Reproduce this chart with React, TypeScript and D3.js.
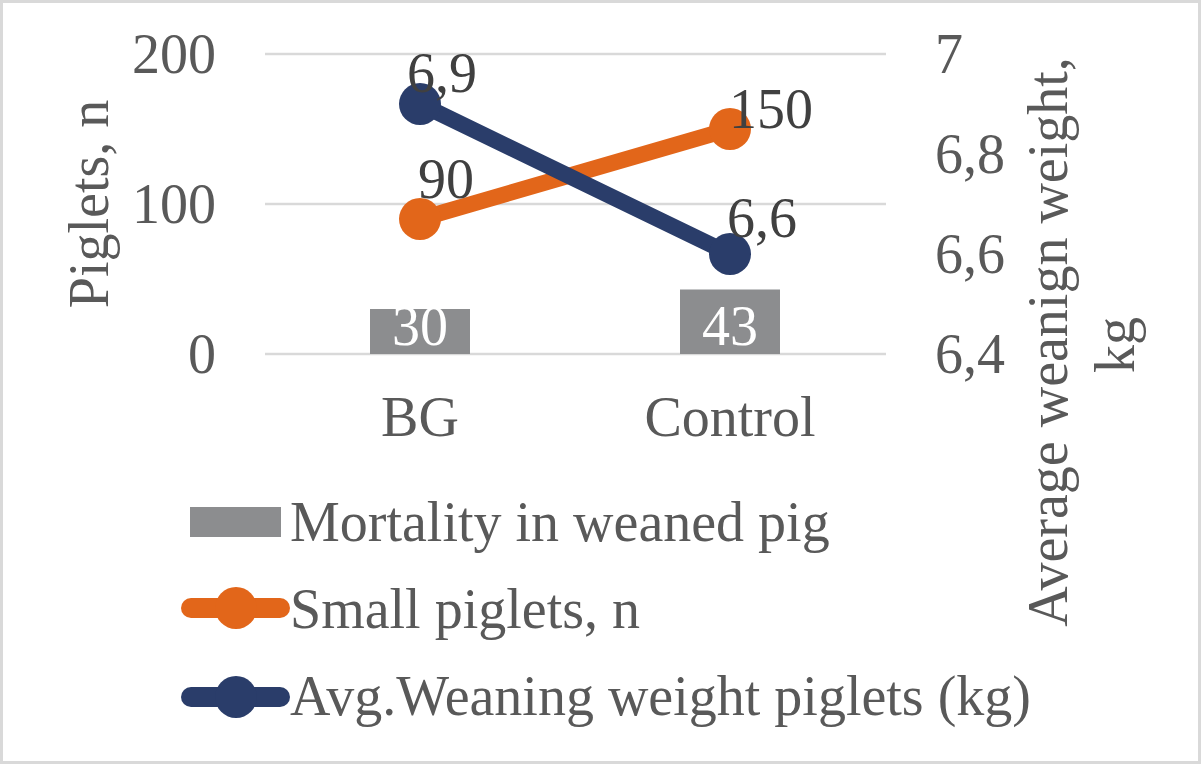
import React from "react";
import * as d3 from "d3";

const categories = ["BG", "Control"];
const mortality = [30, 43];
const smallPiglets = [90, 150];
const avgWeight = [6.9, 6.6];
const leftTicks = [0, 100, 200];
const rightTicks = [6.4, 6.6, 6.8, 7.0];
const legendLabels = ["Mortality in weaned pig", "Small piglets, n", "Avg.Weaning weight piglets (kg)"];

const W = 1201;
const H = 764;
const plot = { left: 265, right: 886, top: 54, bottom: 354 };
const FONT = "'Liberation Serif', 'Times New Roman', serif";
const FS = 56;
const AXIS_COLOR = "#595959";
const LABEL_COLOR = "#404040";
const ORANGE = "#E2661A";
const BLUE = "#2A3D6A";
const GRAY = "#8C8D8F";
const GRID = "#D9D9D9";

// label placement offsets (layout, not data)
const smallLabelOffset = [[-2, -21], [-1, -1]];
const avgLabelOffset = [[-13, -12], [-3, -17]];

const commaLocale = d3.formatLocale({ decimal: ",", thousands: " ", grouping: [3], currency: ["", ""] });
const fmt1 = commaLocale.format(".1~f");

export default function App() {
  const x = d3.scaleBand<string>().domain(categories).range([plot.left, plot.right - 1]).paddingInner(0).paddingOuter(0);
  const yL = d3.scaleLinear().domain([0, 200]).range([plot.bottom, plot.top]);
  const yR = d3.scaleLinear().domain([6.4, 7.0]).range([plot.bottom, plot.top]);
  const barW = 100;
  const cx = (c: string) => (x(c) as number) + x.bandwidth() / 2;

  const lineL = d3.line<number>().x((_, i) => cx(categories[i])).y((d) => yL(d));
  const lineR = d3.line<number>().x((_, i) => cx(categories[i])).y((d) => yR(d));

  return (
    <svg width={W} height={H} style={{ position: "absolute", left: 0, top: 0, background: "#fff" }} fontFamily={FONT}>
      <rect x={1.5} y={1.5} width={W - 3} height={H - 3} fill="#fff" stroke={GRID} strokeWidth={3} />
      {/* gridlines */}
      {leftTicks.map((t) => (
        <line key={"g" + t} x1={plot.left} x2={plot.right} y1={yL(t)} y2={yL(t)} stroke={GRID} strokeWidth={2.5} />
      ))}
      {/* left axis labels */}
      {leftTicks.map((t) => (
        <text key={"l" + t} x={216} y={yL(t) + 19} textAnchor="end" fontSize={FS} fill={AXIS_COLOR}>
          {t}
        </text>
      ))}
      {/* right axis labels */}
      {rightTicks.map((t) => (
        <text key={"r" + t} x={935} y={yR(t) + 19} textAnchor="start" fontSize={FS} fill={AXIS_COLOR}>
          {fmt1(t)}
        </text>
      ))}
      {/* axis titles */}
      <text transform={`translate(108,204) rotate(-90)`} textAnchor="middle" fontSize={FS} fill={AXIS_COLOR}>
        Piglets, n
      </text>
      <text transform={`translate(1067,342) rotate(-90)`} textAnchor="middle" fontSize={FS} fill={AXIS_COLOR}>
        Average weanign weight,
      </text>
      <text transform={`translate(1134,345) rotate(-90)`} textAnchor="middle" fontSize={FS} fill={AXIS_COLOR}>
        kg
      </text>
      {/* category labels */}
      {categories.map((c) => (
        <text key={"c" + c} x={cx(c)} y={436} textAnchor="middle" fontSize={FS} fill={AXIS_COLOR}>
          {c}
        </text>
      ))}
      {/* bars */}
      {mortality.map((v, i) => (
        <g key={"b" + i}>
          <rect x={cx(categories[i]) - barW / 2} y={yL(v)} width={barW} height={yL(0) - yL(v)} fill={GRAY} />
          <text x={cx(categories[i])} y={345} textAnchor="middle" fontSize={FS} fill="#fff">
            {v}
          </text>
        </g>
      ))}
      {/* lines */}
      <path d={lineL(smallPiglets) || ""} fill="none" stroke={ORANGE} strokeWidth={16} strokeLinecap="round" />
      {smallPiglets.map((v, i) => (
        <circle key={"o" + i} cx={cx(categories[i])} cy={yL(v)} r={21} fill={ORANGE} />
      ))}
      <path d={lineR(avgWeight) || ""} fill="none" stroke={BLUE} strokeWidth={16} strokeLinecap="round" />
      {avgWeight.map((v, i) => (
        <circle key={"n" + i} cx={cx(categories[i])} cy={yR(v)} r={21} fill={BLUE} />
      ))}
      {/* data labels */}
      {smallPiglets.map((v, i) => (
        <text key={"so" + i} x={cx(categories[i]) + smallLabelOffset[i][0]} y={yL(v) + smallLabelOffset[i][1]} fontSize={FS} fill={LABEL_COLOR}>
          {v}
        </text>
      ))}
      {avgWeight.map((v, i) => (
        <text key={"sn" + i} x={cx(categories[i]) + avgLabelOffset[i][0]} y={yR(v) + avgLabelOffset[i][1]} fontSize={FS} fill={LABEL_COLOR}>
          {fmt1(v)}
        </text>
      ))}
      {/* legend */}
      <g>
        <rect x={190} y={507} width={91} height={30} fill={GRAY} />
        <text x={290} y={541} fontSize={FS} fill={AXIS_COLOR}>{legendLabels[0]}</text>
        <line x1={191} x2={280} y1={608} y2={608} stroke={ORANGE} strokeWidth={20} strokeLinecap="round" />
        <circle cx={236} cy={608} r={21} fill={ORANGE} />
        <text x={290} y={628} fontSize={FS} fill={AXIS_COLOR}>{legendLabels[1]}</text>
        <line x1={191} x2={280} y1={697} y2={697} stroke={BLUE} strokeWidth={20} strokeLinecap="round" />
        <circle cx={236} cy={697} r={21} fill={BLUE} />
        <text x={290} y={715} fontSize={FS} fill={AXIS_COLOR}>{legendLabels[2]}</text>
      </g>
    </svg>
  );
}
